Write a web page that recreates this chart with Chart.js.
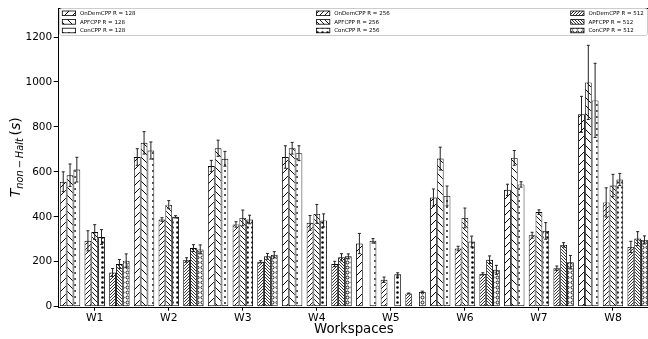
<!DOCTYPE html>
<html lang="en">
<head>
  <meta charset="UTF-8">
  <title>T non-Halt per workspace</title>
  <script src="https://cdn.jsdelivr.net/npm/chart.js"></script>
  <style>
    html, body { margin: 0; padding: 0; overflow: hidden; background: #fff; }
    #wrap { width: 652px; height: 339px; }
  </style>
</head>
<body>
<div id="wrap"><canvas id="grafica"></canvas></div>
<script>
const workspaces = ['W1', 'W2', 'W3', 'W4', 'W5', 'W6', 'W7', 'W8'];
const rValues = [128, 256, 512];
const seriesNames = ['OnDemCPP', 'APFCPP', 'ConCPP'];
const yTicks = [0, 200, 400, 600, 800, 1000, 1200];

// mean T_non-Halt (s), one value per workspace
const onDem128 = [556, 666, 626, 666, 281, 486, 520, 856];
const apf128   = [585, 729, 705, 705, 0, 659, 662, 998];
const con128   = [610, 695, 658, 683, 293, 493, 544, 918];
const onDem256 = [293, 388, 366, 373, 120, 259, 318, 464];
const apf256   = [332, 454, 395, 413, 0, 395, 421, 539];
const con256   = [310, 400, 388, 384, 144, 290, 337, 566];
const onDem512 = [152, 208, 200, 190, 59, 146, 171, 266];
const apf512   = [190, 261, 224, 220, 0, 209, 275, 303];
const con512   = [205, 255, 231, 224, 66, 164, 198, 297];

// error bars (+/-)
const onDem128Err = [44, 37, 25, 50, 45, 38, 25, 80];
const apf128Err   = [50, 50, 36, 26, 0, 51, 33, 165];
const con128Err   = [55, 38, 33, 33, 10, 44, 12, 165];
const onDem256Err = [45, 8, 12, 33, 12, 10, 13, 65];
const apf256Err   = [33, 18, 35, 42, 0, 44, 10, 50];
const con256Err   = [33, 5, 19, 29, 7, 24, 37, 27];
const onDem512Err = [18, 10, 5, 12, 2, 5, 10, 25];
const apf512Err   = [20, 15, 13, 16, 0, 17, 10, 31];
const con512Err   = [30, 20, 14, 11, 3, 20, 30, 18];

// hatch patterns
const ctxBase = document.getElementById('grafica').getContext('2d');
function patron(tipo, p, lw, r) {
  const c = document.createElement('canvas');
  c.width = p; c.height = p;
  const g = c.getContext('2d');
  g.fillStyle = '#fff'; g.fillRect(0, 0, p, p);
  g.strokeStyle = '#000'; g.fillStyle = '#000'; g.lineWidth = lw;
  if (tipo === '/' || tipo === '\\') {
    if (tipo === '\\') { g.translate(p, 0); g.scale(-1, 1); }
    g.beginPath();
    g.moveTo(0, p); g.lineTo(p, 0);
    g.moveTo(-p, p); g.lineTo(p, -p);
    g.moveTo(0, 2 * p); g.lineTo(2 * p, 0);
    g.stroke();
  } else if (tipo === '.') {
    g.beginPath(); g.arc(p / 2, p / 2, r, 0, Math.PI * 2); g.fill();
  } else if (tipo === 'o') {
    g.beginPath(); g.arc(p / 2, p / 2, r, 0, Math.PI * 2); g.stroke();
  }
  return ctxBase.createPattern(c, 'repeat');
}

const valores = [[onDem128, apf128, con128], [onDem256, apf256, con256], [onDem512, apf512, con512]];
const errores = [[onDem128Err, apf128Err, con128Err], [onDem256Err, apf256Err, con256Err], [onDem512Err, apf512Err, con512Err]];
const patrones = [
  [patron('/', 8, 1), patron('\\', 8, 1), patron('.', 6, 0, 0.9)],
  [patron('/', 5, 0.9), patron('\\', 5, 0.9), patron('.', 5, 0, 1.3)],
  [patron('/', 3, 0.8), patron('\\', 3, 0.8), patron('o', 5, 0.9, 1.5)]
];

// 3 sub-slots per workspace (one per R), bars of other R are null
const subLabels = [];
workspaces.forEach(w => rValues.forEach(r => subLabels.push(w + '-' + r)));

const datasets = [];
rValues.forEach((r, ri) => {
  seriesNames.forEach((s, si) => {
    const data = subLabels.map((_, k) => (k % 3 === ri ? valores[ri][si][Math.floor(k / 3)] : null));
    datasets.push({
      label: s + ' R = ' + r,
      data: data,
      errores: errores[ri][si],
      backgroundColor: patrones[ri][si],
      borderColor: '#000',
      borderWidth: 0.9,
      borderSkipped: false,
      xAxisID: 'x',
      yAxisID: 'y'
    });
  });
});

const FONT = '"DejaVu Sans", sans-serif';

const barrasError = {
  id: 'barrasError',
  afterDatasetsDraw(chart) {
    const ctx = chart.ctx, y = chart.scales.y;
    ctx.save();
    ctx.strokeStyle = '#222';
    ctx.lineWidth = 1;
    chart.data.datasets.forEach((ds, i) => {
      const meta = chart.getDatasetMeta(i);
      meta.data.forEach((el, k) => {
        const v = ds.data[k];
        if (v === null || !v) return;
        const e = ds.errores[Math.floor(k / 3)];
        if (!e) return;
        const y1 = y.getPixelForValue(v + e), y2 = y.getPixelForValue(v - e);
        ctx.beginPath();
        ctx.moveTo(el.x, y1); ctx.lineTo(el.x, y2);
        ctx.moveTo(el.x - 1.5, y1); ctx.lineTo(el.x + 1.5, y1);
        ctx.moveTo(el.x - 1.5, y2); ctx.lineTo(el.x + 1.5, y2);
        ctx.stroke();
      });
    });
    ctx.restore();
  }
};

const marco = {
  id: 'marco',
  afterDraw(chart) {
    const { ctx, chartArea: a } = chart;
    ctx.save();
    ctx.strokeStyle = '#000';
    ctx.lineWidth = 1;
    ctx.strokeRect(Math.round(a.left) + 0.5, Math.round(a.top) + 0.5,
      Math.round(a.right - a.left), Math.round(a.bottom - a.top));

    // legend, 3 columns (one per R)
    const bx = a.left + 1.5, by = 8, bw = a.right - a.left - 4.5, bh = 27;
    ctx.fillStyle = 'rgba(255,255,255,0.85)';
    ctx.strokeStyle = '#cccccc';
    ctx.beginPath();
    ctx.roundRect(bx + 0.5, by + 0.5, bw, bh, 2);
    ctx.fill(); ctx.stroke();
    ctx.font = '5.5px ' + FONT;
    ctx.textBaseline = 'middle';
    chart.data.datasets.forEach((ds, i) => {
      const col = Math.floor(i / 3), row = i % 3;
      const px = a.left + 4.6 + col * 254.2, py = 11 + row * 8.6;
      ctx.fillStyle = ds.backgroundColor;
      ctx.fillRect(px, py, 13.3, 4.6);
      ctx.strokeStyle = '#000';
      ctx.lineWidth = 0.8;
      ctx.strokeRect(px, py, 13.3, 4.6);
      ctx.fillStyle = '#000';
      ctx.fillText(ds.label, px + 17.7, py + 2.5);
    });

    // y title T_{non-Halt} (s)
    const cy = (a.top + a.bottom) / 2;
    const partes = [
      { t: 'T', f: 'italic 14px ' + FONT, dy: 0 },
      { t: 'non\u2009\u2212\u2009Halt', f: 'italic 9.8px ' + FONT, dy: 3.2 },
      { t: '\u2009(', f: '14px ' + FONT, dy: 0 },
      { t: 's', f: 'italic 14px ' + FONT, dy: 0 },
      { t: ')', f: '14px ' + FONT, dy: 0 }
    ];
    let total = 0;
    partes.forEach(p => { ctx.font = p.f; p.w = ctx.measureText(p.t).width; total += p.w; });
    ctx.translate(0, cy);
    ctx.rotate(-Math.PI / 2);
    ctx.textBaseline = 'alphabetic';
    ctx.fillStyle = '#000';
    let x = -total / 2;
    partes.forEach(p => { ctx.font = p.f; ctx.fillText(p.t, x, 19.5 + p.dy); x += p.w; });
    ctx.restore();
  }
};

new Chart(document.getElementById('grafica'), {
  type: 'bar',
  data: { labels: subLabels, datasets: datasets },
  options: {
    responsive: true,
    maintainAspectRatio: false,
    animation: false,
    layout: { padding: { top: 4, right: 2, left: 0, bottom: 0 } },
    datasets: { bar: { categoryPercentage: 0.827, barPercentage: 1, skipNull: true } },
    plugins: { legend: { display: false }, tooltip: { enabled: false } },
    scales: {
      x: { display: false, offset: true },
      xw: {
        type: 'category',
        labels: workspaces,
        position: 'bottom',
        offset: true,
        grid: { offset: false, drawOnChartArea: false, tickLength: 4, color: '#000' },
        border: { display: false },
        ticks: { font: { family: FONT, size: 10.8 }, color: '#000', padding: 1, maxRotation: 0, autoSkip: false },
        title: { display: true, text: 'Workspaces', font: { family: FONT, size: 13.3 }, color: '#000', padding: { top: 0, bottom: 1 } },
        afterFit: s => { s.height = 32.3; }
      },
      y: {
        min: 0,
        max: 1330,
        afterBuildTicks: s => { s.ticks = yTicks.map(v => ({ value: v })); },
        ticks: { font: { family: FONT, size: 10.5 }, color: '#000', padding: 1.5, callback: v => String(v) },
        grid: { drawOnChartArea: false, tickLength: 4, color: '#000' },
        border: { display: false },
        afterFit: s => { s.width = 57.7; }
      }
    }
  },
  plugins: [barrasError, marco]
});
</script>
</body>
</html>
